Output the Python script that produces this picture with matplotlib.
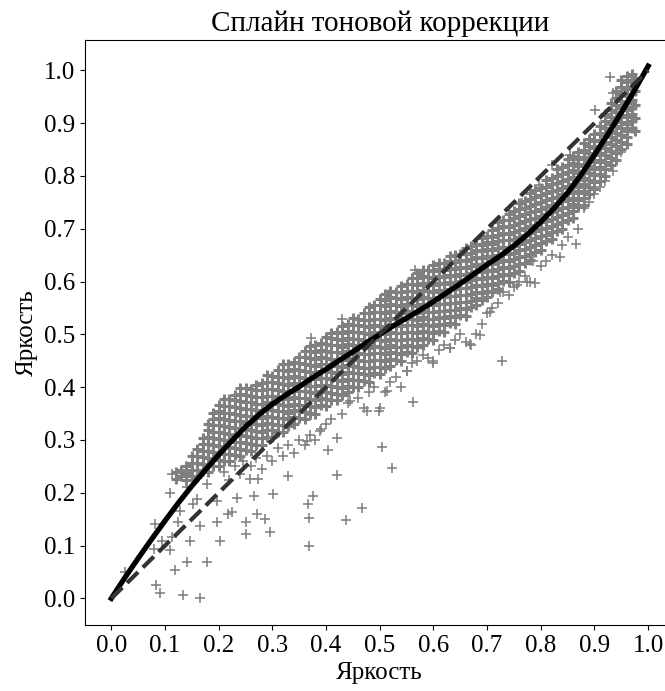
import matplotlib
matplotlib.use("Agg")
import matplotlib.pyplot as plt

plt.rcParams['font.family'] = ['Liberation Serif', 'DejaVu Serif']

title = "Сплайн тоновой коррекции"
xlabel = "Яркость"
ylabel = "Яркость"
ticks = [0.0, 0.1, 0.2, 0.3, 0.4, 0.5, 0.6, 0.7, 0.8, 0.9, 1.0]

# tone-correction spline
spline_x = [0.0, 0.025, 0.05, 0.075, 0.1, 0.125, 0.15, 0.175, 0.2, 0.225, 0.25,
            0.275, 0.3, 0.325, 0.35, 0.375, 0.4, 0.425, 0.45, 0.475, 0.5,
            0.525, 0.55, 0.575, 0.6, 0.625, 0.65, 0.675, 0.7, 0.725, 0.75,
            0.775, 0.8, 0.825, 0.85, 0.875, 0.9, 0.925, 0.95, 0.975, 1.0]
spline_y = [0.0, 0.039, 0.076, 0.112, 0.147, 0.181, 0.213, 0.243, 0.272, 0.299, 0.325,
            0.348, 0.368, 0.385, 0.401, 0.418, 0.434, 0.451, 0.467, 0.484, 0.500,
            0.516, 0.531, 0.546, 0.562, 0.579, 0.596, 0.614, 0.632, 0.649, 0.668,
            0.689, 0.713, 0.739, 0.768, 0.802, 0.840, 0.879, 0.920, 0.963, 1.008]

# identity line
diag_x = [0.0, 1.0]
diag_y = [0.0, 1.0]

# dense part of the point cloud: one column of y values per x
band_x = [0.12, 0.13, 0.14, 0.15, 0.16, 0.17, 0.18, 0.19, 0.20, 0.21,
          0.22, 0.23, 0.24, 0.25, 0.26, 0.27, 0.28, 0.29, 0.30, 0.31,
          0.32, 0.33, 0.34, 0.35, 0.36, 0.37, 0.38, 0.39, 0.40, 0.41,
          0.42, 0.43, 0.44, 0.45, 0.46, 0.47, 0.48, 0.49, 0.50, 0.51,
          0.52, 0.53, 0.54, 0.55, 0.56, 0.57, 0.58, 0.59, 0.60, 0.61,
          0.62, 0.63, 0.64, 0.65, 0.66, 0.67, 0.68, 0.69, 0.70, 0.71,
          0.72, 0.73, 0.74, 0.75, 0.76, 0.77, 0.78, 0.79, 0.80, 0.81,
          0.82, 0.83, 0.84, 0.85, 0.86, 0.87, 0.88, 0.89, 0.90, 0.91,
          0.92, 0.93, 0.94, 0.95, 0.96, 0.97, 0.975]
band_y = [
    [0.226, 0.239],
    [0.231, 0.244],
    [0.225, 0.238, 0.251],
    [0.231, 0.244, 0.257, 0.270],
    [0.230, 0.243, 0.256, 0.269, 0.282],
    [0.241, 0.254, 0.267, 0.280, 0.293, 0.303],
    [0.240, 0.253, 0.266, 0.279, 0.292, 0.305, 0.318, 0.331],
    [0.251, 0.264, 0.277, 0.290, 0.303, 0.316, 0.329, 0.339, 0.352],
    [0.250, 0.263, 0.276, 0.289, 0.302, 0.315, 0.328, 0.341, 0.354, 0.367],
    [0.261, 0.274, 0.287, 0.300, 0.313, 0.326, 0.339, 0.352, 0.365, 0.378],
    [0.260, 0.273, 0.286, 0.299, 0.312, 0.325, 0.338, 0.351, 0.364, 0.377],
    [0.271, 0.284, 0.297, 0.310, 0.323, 0.336, 0.349, 0.362, 0.375, 0.386],
    [0.270, 0.283, 0.296, 0.309, 0.322, 0.335, 0.348, 0.361, 0.374, 0.387, 0.398],
    [0.281, 0.294, 0.307, 0.320, 0.333, 0.346, 0.359, 0.372, 0.385, 0.398],
    [0.280, 0.293, 0.306, 0.319, 0.332, 0.345, 0.358, 0.371, 0.384, 0.397],
    [0.291, 0.304, 0.317, 0.330, 0.343, 0.356, 0.369, 0.382, 0.395, 0.405],
    [0.290, 0.303, 0.316, 0.329, 0.342, 0.355, 0.368, 0.381, 0.394, 0.407],
    [0.306, 0.319, 0.332, 0.345, 0.358, 0.371, 0.384, 0.397, 0.410, 0.423],
    [0.305, 0.318, 0.331, 0.344, 0.357, 0.370, 0.383, 0.396, 0.409, 0.422],
    [0.316, 0.329, 0.342, 0.355, 0.368, 0.381, 0.394, 0.407, 0.420, 0.433],
    [0.315, 0.328, 0.341, 0.354, 0.367, 0.380, 0.393, 0.406, 0.419, 0.432, 0.443],
    [0.326, 0.339, 0.352, 0.365, 0.378, 0.391, 0.404, 0.417, 0.430, 0.443],
    [0.330, 0.343, 0.356, 0.369, 0.382, 0.395, 0.408, 0.421, 0.434, 0.447],
    [0.341, 0.354, 0.367, 0.380, 0.393, 0.406, 0.419, 0.432, 0.445, 0.458],
    [0.340, 0.353, 0.366, 0.379, 0.392, 0.405, 0.418, 0.431, 0.444, 0.457, 0.468],
    [0.351, 0.364, 0.377, 0.390, 0.403, 0.416, 0.429, 0.442, 0.455, 0.468, 0.478],
    [0.350, 0.363, 0.376, 0.389, 0.402, 0.415, 0.428, 0.441, 0.454, 0.467, 0.480],
    [0.366, 0.379, 0.392, 0.405, 0.418, 0.431, 0.444, 0.457, 0.470, 0.483],
    [0.365, 0.378, 0.391, 0.404, 0.417, 0.430, 0.443, 0.456, 0.469, 0.482, 0.495],
    [0.376, 0.389, 0.402, 0.415, 0.428, 0.441, 0.454, 0.467, 0.480, 0.493, 0.503],
    [0.375, 0.388, 0.401, 0.414, 0.427, 0.440, 0.453, 0.466, 0.479, 0.492, 0.505],
    [0.386, 0.399, 0.412, 0.425, 0.438, 0.451, 0.464, 0.477, 0.490, 0.503, 0.516],
    [0.390, 0.403, 0.416, 0.429, 0.442, 0.455, 0.468, 0.481, 0.494, 0.507, 0.520],
    [0.401, 0.414, 0.427, 0.440, 0.453, 0.466, 0.479, 0.492, 0.505, 0.518, 0.531],
    [0.400, 0.413, 0.426, 0.439, 0.452, 0.465, 0.478, 0.491, 0.504, 0.517, 0.530],
    [0.411, 0.424, 0.437, 0.450, 0.463, 0.476, 0.489, 0.502, 0.515, 0.528, 0.541],
    [0.410, 0.423, 0.436, 0.449, 0.462, 0.475, 0.488, 0.501, 0.514, 0.527, 0.540, 0.552],
    [0.426, 0.439, 0.452, 0.465, 0.478, 0.491, 0.504, 0.517, 0.530, 0.543, 0.556],
    [0.425, 0.438, 0.451, 0.464, 0.477, 0.490, 0.503, 0.516, 0.529, 0.542, 0.555, 0.567],
    [0.436, 0.449, 0.462, 0.475, 0.488, 0.501, 0.514, 0.527, 0.540, 0.553, 0.566, 0.577],
    [0.440, 0.453, 0.466, 0.479, 0.492, 0.505, 0.518, 0.531, 0.544, 0.557, 0.570, 0.582],
    [0.451, 0.464, 0.477, 0.490, 0.503, 0.516, 0.529, 0.542, 0.555, 0.568, 0.581],
    [0.450, 0.463, 0.476, 0.489, 0.502, 0.515, 0.528, 0.541, 0.554, 0.567, 0.580, 0.592],
    [0.466, 0.479, 0.492, 0.505, 0.518, 0.531, 0.544, 0.557, 0.570, 0.583, 0.596],
    [0.465, 0.478, 0.491, 0.504, 0.517, 0.530, 0.543, 0.556, 0.569, 0.582, 0.595, 0.607],
    [0.476, 0.489, 0.502, 0.515, 0.528, 0.541, 0.554, 0.567, 0.580, 0.593, 0.606, 0.617],
    [0.480, 0.493, 0.506, 0.519, 0.532, 0.545, 0.558, 0.571, 0.584, 0.597, 0.610, 0.622],
    [0.491, 0.504, 0.517, 0.530, 0.543, 0.556, 0.569, 0.582, 0.595, 0.608, 0.621],
    [0.490, 0.503, 0.516, 0.529, 0.542, 0.555, 0.568, 0.581, 0.594, 0.607, 0.620, 0.632],
    [0.506, 0.519, 0.532, 0.545, 0.558, 0.571, 0.584, 0.597, 0.610, 0.623, 0.636],
    [0.505, 0.518, 0.531, 0.544, 0.557, 0.570, 0.583, 0.596, 0.609, 0.622, 0.635],
    [0.521, 0.534, 0.547, 0.560, 0.573, 0.586, 0.599, 0.612, 0.625, 0.638, 0.648],
    [0.520, 0.533, 0.546, 0.559, 0.572, 0.585, 0.598, 0.611, 0.624, 0.637, 0.650],
    [0.536, 0.549, 0.562, 0.575, 0.588, 0.601, 0.614, 0.627, 0.640, 0.653],
    [0.535, 0.548, 0.561, 0.574, 0.587, 0.600, 0.613, 0.626, 0.639, 0.652, 0.663],
    [0.551, 0.564, 0.577, 0.590, 0.603, 0.616, 0.629, 0.642, 0.655, 0.668],
    [0.555, 0.568, 0.581, 0.594, 0.607, 0.620, 0.633, 0.646, 0.659, 0.672],
    [0.566, 0.579, 0.592, 0.605, 0.618, 0.631, 0.644, 0.657, 0.670, 0.683],
    [0.570, 0.583, 0.596, 0.609, 0.622, 0.635, 0.648, 0.661, 0.674, 0.687],
    [0.581, 0.594, 0.607, 0.620, 0.633, 0.646, 0.659, 0.672, 0.685, 0.698],
    [0.585, 0.598, 0.611, 0.624, 0.637, 0.650, 0.663, 0.676, 0.689, 0.702, 0.713],
    [0.601, 0.614, 0.627, 0.640, 0.653, 0.666, 0.679, 0.692, 0.705, 0.717],
    [0.600, 0.613, 0.626, 0.639, 0.652, 0.665, 0.678, 0.691, 0.704, 0.717, 0.728],
    [0.616, 0.629, 0.642, 0.655, 0.668, 0.681, 0.694, 0.707, 0.720, 0.733],
    [0.620, 0.633, 0.646, 0.659, 0.672, 0.685, 0.698, 0.711, 0.724, 0.737, 0.748],
    [0.636, 0.649, 0.662, 0.675, 0.688, 0.701, 0.714, 0.727, 0.740, 0.753],
    [0.640, 0.653, 0.666, 0.679, 0.692, 0.705, 0.718, 0.731, 0.744, 0.757, 0.768],
    [0.656, 0.669, 0.682, 0.695, 0.708, 0.721, 0.734, 0.747, 0.760, 0.773],
    [0.660, 0.673, 0.686, 0.699, 0.712, 0.725, 0.738, 0.751, 0.764, 0.777],
    [0.676, 0.689, 0.702, 0.715, 0.728, 0.741, 0.754, 0.767, 0.780, 0.793],
    [0.680, 0.693, 0.706, 0.719, 0.732, 0.745, 0.758, 0.771, 0.784, 0.797],
    [0.696, 0.709, 0.722, 0.735, 0.748, 0.761, 0.774, 0.787, 0.800, 0.813],
    [0.700, 0.713, 0.726, 0.739, 0.752, 0.765, 0.778, 0.791, 0.804, 0.817],
    [0.716, 0.729, 0.742, 0.755, 0.768, 0.781, 0.794, 0.807, 0.820, 0.833],
    [0.720, 0.733, 0.746, 0.759, 0.772, 0.785, 0.798, 0.811, 0.824, 0.837],
    [0.741, 0.754, 0.767, 0.780, 0.793, 0.806, 0.819, 0.832, 0.845],
    [0.745, 0.758, 0.771, 0.784, 0.797, 0.810, 0.823, 0.836, 0.849, 0.862],
    [0.766, 0.779, 0.792, 0.805, 0.818, 0.831, 0.844, 0.857, 0.870],
    [0.775, 0.788, 0.801, 0.814, 0.827, 0.840, 0.853, 0.866, 0.879],
    [0.791, 0.804, 0.817, 0.830, 0.843, 0.856, 0.869, 0.882, 0.895],
    [0.800, 0.813, 0.826, 0.839, 0.852, 0.865, 0.878, 0.891, 0.904, 0.917],
    [0.821, 0.834, 0.847, 0.860, 0.873, 0.886, 0.899, 0.912, 0.925, 0.938],
    [0.830, 0.843, 0.856, 0.869, 0.882, 0.895, 0.908, 0.921, 0.934, 0.947, 0.960],
    [0.851, 0.864, 0.877, 0.890, 0.903, 0.916, 0.929, 0.942, 0.955, 0.968, 0.981],
    [0.860, 0.873, 0.886, 0.899, 0.912, 0.925, 0.938, 0.951, 0.964, 0.977, 0.990],
    [0.891, 0.904, 0.917, 0.930, 0.943, 0.956, 0.969, 0.982, 0.993],
    [0.885, 0.910, 0.935, 0.960, 0.985],
]

# sparse points and outliers around the dense band
sparse_x = [0.025, 0.083, 0.090, 0.134, 0.166, 0.082, 0.110, 0.113, 0.119, 0.141,
            0.178, 0.147, 0.110, 0.125, 0.166, 0.160, 0.197, 0.203, 0.218, 0.250,
            0.250, 0.271, 0.287, 0.296, 0.302, 0.330, 0.369, 0.369, 0.367, 0.376,
            0.265, 0.234, 0.225, 0.197, 0.178, 0.259, 0.274, 0.141, 0.153, 0.128,
            0.094, 0.079, 0.113, 0.504, 0.523, 0.467, 0.437, 0.420, 0.404, 0.421,
            0.728, 0.562, 0.371, 0.389, 0.364,
            0.21, 0.22, 0.23, 0.24, 0.245, 0.26, 0.27, 0.28, 0.29, 0.30,
            0.31, 0.32, 0.33, 0.34, 0.35, 0.36, 0.37, 0.38, 0.39, 0.40,
            0.41, 0.43, 0.44, 0.46, 0.47, 0.48, 0.49, 0.50, 0.51, 0.52,
            0.53, 0.54, 0.55, 0.56, 0.57, 0.58, 0.59, 0.60, 0.61, 0.62,
            0.63, 0.64, 0.65, 0.66, 0.67, 0.68, 0.69, 0.70, 0.71, 0.72,
            0.73, 0.74, 0.75, 0.755, 0.76, 0.77, 0.78, 0.79, 0.80, 0.81,
            0.82, 0.836, 0.84, 0.85, 0.865, 0.87, 0.88, 0.89, 0.90, 0.911,
            0.92, 0.935, 0.95,
            0.551, 0.513, 0.498, 0.476, 0.445, 0.600, 0.631, 0.669, 0.687, 0.706,
            0.724, 0.774, 0.786,
            0.901, 0.929, 0.935, 0.855, 0.821, 0.796, 0.765, 0.371, 0.430, 0.566]
sparse_y = [0.050, 0.025, 0.011, 0.006, 0.000, 0.141, 0.200, 0.235, 0.053, 0.069,
            0.069, 0.109, 0.091, 0.144, 0.138, 0.188, 0.144, 0.109, 0.160, 0.144,
            0.122, 0.160, 0.150, 0.125, 0.198, 0.232, 0.099, 0.152, 0.179, 0.194,
            0.194, 0.191, 0.163, 0.185, 0.216, 0.226, 0.226, 0.210, 0.179, 0.166,
            0.109, 0.094, 0.116, 0.286, 0.247, 0.171, 0.149, 0.234, 0.281, 0.303,
            0.450, 0.372, 0.348, 0.317, 0.298,
            0.240, 0.225, 0.250, 0.235, 0.260, 0.250, 0.265, 0.245, 0.270, 0.260,
            0.285, 0.270, 0.290, 0.275, 0.300, 0.290, 0.310, 0.300, 0.320, 0.330,
            0.340, 0.350, 0.370, 0.380, 0.360, 0.390, 0.400, 0.360, 0.390, 0.410,
            0.420, 0.400, 0.430, 0.445, 0.450, 0.460, 0.455, 0.450, 0.470, 0.480,
            0.475, 0.490, 0.500, 0.485, 0.480, 0.500, 0.520, 0.540, 0.550, 0.560,
            0.580, 0.575, 0.590, 0.594, 0.600, 0.610, 0.600, 0.597, 0.630, 0.638,
            0.650, 0.647, 0.670, 0.685, 0.672, 0.700, 0.740, 0.750, 0.765, 0.779,
            0.790, 0.810, 0.845,
            0.430, 0.392, 0.355, 0.355, 0.374, 0.446, 0.474, 0.481, 0.499, 0.543,
            0.581, 0.600, 0.638,
            0.924, 0.987, 0.958, 0.839, 0.820, 0.782, 0.748, 0.493, 0.530, 0.622]

W, H = 665, 691
fig = plt.figure(figsize=(W / 100, H / 100), dpi=100)
ax = fig.add_axes([84.5 / W, (H - 625) / H, (675 - 84.5) / W, (625 - 39.5) / H])

core_x = []
core_y = []
for x, ys in zip(band_x, band_y):
    for y in ys:
        core_x.append(x)
        core_y.append(y)

ax.scatter(core_x, core_y, marker='+', s=62, linewidths=2.2, color='gray', zorder=2)
ax.scatter(sparse_x, sparse_y, marker='+', s=56, linewidths=1.15, color='gray', zorder=2)
ax.plot(spline_x, spline_y, color='black', lw=3.8, zorder=3)
ax.plot(diag_x, diag_y, color='#333333', lw=3, ls='--', zorder=4)

ax.set_xlim(-0.05, 1.05)
ax.set_ylim(-0.0504, 1.0584)
ax.spines['right'].set_visible(False)
ax.set_xticks(ticks)
ax.set_yticks(ticks)
ax.set_xticklabels([f"{t:.1f}" for t in ticks])
ax.set_yticklabels([f"{t:.1f}" for t in ticks])
ax.tick_params(labelsize=18)
ax.set_title(title, fontsize=21)
ax.set_xlabel(xlabel, fontsize=18)
ax.set_ylabel(ylabel, fontsize=18)

fig.savefig("out.png", dpi=100)
